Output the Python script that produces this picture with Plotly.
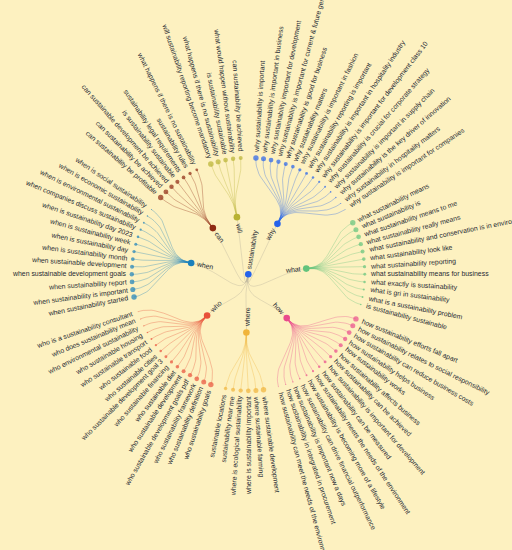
import math
import plotly.graph_objects as go

ROOT = "sustainability"
GROUPS = ["why", "what", "how", "where", "who", "when", "can", "will"]
GROUP_COLORS = ["#2563eb", "#62c37c", "#e94b8c", "#f0b43a", "#e8513a", "#1a80bb", "#8f2a12", "#b8b232"]
ROOT_COLOR = "#2563eb"

why_leaves = ["why sustainability is important", "why sustainability is important in business",
              "why sustainability important for development",
              "why sustainability is important for current &amp; future generations",
              "why sustainability is good for business", "why sustainability matters",
              "why sustainability is important in fashion", "why sustainability reporting is important",
              "why sustainability is important in hospitality industry",
              "why sustainability is important for development class 10",
              "why sustainability is crucial for corporate strategy",
              "why sustainability is important in supply chain",
              "why sustainability is the key driver of innovation",
              "why sustainability in hospitality matters", "why sustainability is important for companies"]
why_sizes = [5.4, 5.0, 4.7, 4.3, 4.0, 3.6, 3.2, 2.9, 2.5, 2.2, 1.9, 1.6, 1.3, 1.0, 0.7]

what_leaves = ["what sustainability means", "what sustainability is", "what sustainability means to me",
               "what sustainability really means", "what sustainability and conservation is in environment",
               "what sustainability look like", "what sustainability reporting",
               "what sustainability means for business", "what exactly is sustainability",
               "what is gri in sustainability", "what is a sustainability problem",
               "is sustainability sustainable"]
what_sizes = [5.4, 5.0, 4.7, 4.3, 4.0, 3.6, 3.2, 2.9, 2.5, 2.2, 1.9, 1.6]

how_leaves = ["how sustainability efforts fall apart", "how sustainability relates to social responsibility",
              "how sustainability can reduce business costs", "how sustainability helps business",
              "how sustainability works", "how sustainability affects business",
              "how sustainability can be achieved", "how sustainability is important for development",
              "how sustainability can be measured", "how sustainability meets the needs of the environment",
              "how sustainability is becoming more of a lifestyle",
              "how sustainability can drive financial outperformance",
              "how sustainability is important now a days", "how sustainability in integrated in procurement",
              "how sustainability can meet the needs of the environment"]
how_sizes = [5.4, 5.0, 4.7, 4.3, 4.0, 3.6, 3.2, 2.9, 2.5, 2.2, 1.9, 1.6, 1.3, 1.0, 0.7]

where_leaves = ["where sustainable development", "where sustainable farming", "where is sustainability important",
                "where is ecological sustainability", "sustainability near me", "sustainable locations"]
where_sizes = [5.4, 5.0, 4.7, 4.3, 4.0, 3.4]

who_leaves = ["who sustainability goals", "who sustainability definition", "who sustainability framework",
              "who sustainable development goals pdf", "who sustainable development", "who sustainable diet",
              "who sustainable financing", "who sustainable development goal 3", "who sustainable cities",
              "who sustainable food", "who sustainable transport", "who sustainable housing",
              "who environmental sustainability", "who does sustainability mean",
              "who is a sustainability consultant"]
who_sizes = [5.4, 5.0, 4.7, 4.3, 4.0, 3.6, 3.2, 2.9, 2.5, 2.2, 1.9, 1.6, 1.3, 1.0, 0.7]

when_leaves = ["when sustainability started", "when sustainability is important", "when sustainability report",
               "when sustainable development goals", "when sustainable development",
               "when is sustainability month", "when is sustainability day", "when is sustainability week",
               "when is sustainability day 2023", "when companies discuss sustainability",
               "when is environmental sustainability", "when is economic sustainability",
               "when is social sustainability"]
when_sizes = [5.4, 5.1, 4.8, 4.4, 4.1, 3.7, 3.3, 3.0, 2.6, 2.2, 1.8, 1.4, 1.0]

can_leaves = ["can sustainability be profitable", "can sustainability be achieved",
              "can sustainable development be achieved", "is sustainability sustainable",
              "sustainability legal requirements", "sustainability rules",
              "what happens if there is no sustainability"]
can_sizes = [5.4, 4.9, 4.5, 4.1, 3.7, 3.3, 2.8]

will_leaves = ["will sustainability reporting become mandatory", "what happens if there is no sustainability",
               "is sustainability sustainable", "what would happen without sustainability",
               "can sustainability be achieved"]
will_sizes = [5.6, 5.1, 4.7, 4.4, 4.0]

LEAVES = [why_leaves, what_leaves, how_leaves, where_leaves, who_leaves, when_leaves, can_leaves, will_leaves]
SIZES = [why_sizes, what_sizes, how_sizes, where_sizes, who_sizes, when_sizes, can_sizes, will_sizes]

# ---------- styling ----------
BG = "#fdf1c0"
TEXT_COLOR = "#262a33"
FONT = "Liberation Sans, Arial, sans-serif"
FS = 6.9
R1, R2 = 58.25, 116.5
OFF = 6.0
NODE_SIZE = 6.6

# Arial/Liberation Sans advance widths (per 1000 em)
W = {' ': 278, 'a': 556, 'b': 556, 'c': 500, 'd': 556, 'e': 556, 'f': 278, 'g': 556, 'h': 556,
     'i': 222, 'j': 222, 'k': 500, 'l': 222, 'm': 833, 'n': 556, 'o': 556, 'p': 556, 'q': 556,
     'r': 333, 's': 500, 't': 278, 'u': 556, 'v': 500, 'w': 722, 'x': 500, 'y': 500, 'z': 500,
     '&': 667}


def text_width(t):
    t = t.replace("&amp;", "&")
    return sum(W.get(ch, 556) for ch in t) / 1000.0 * FS


def hex_rgba(h, a):
    h = h.lstrip('#')
    return "rgba(%d,%d,%d,%.2f)" % (int(h[0:2], 16), int(h[2:4], 16), int(h[4:6], 16), a)


def polar(theta, r):
    t = math.radians(theta)
    return r * math.sin(t), r * math.cos(t)


def bump(ts, rs, tt, rt, n=30):
    rm = (rs + rt) / 2
    p0, p1, p2, p3 = polar(ts, rs), polar(ts, rm), polar(tt, rm), polar(tt, rt)
    xs, ys = [], []
    for k in range(n + 1):
        u = k / n
        a, b, c, d = (1 - u) ** 3, 3 * (1 - u) ** 2 * u, 3 * (1 - u) * u ** 2, u ** 3
        xs.append(a * p0[0] + b * p1[0] + c * p2[0] + d * p3[0])
        ys.append(a * p0[1] + b * p1[1] + c * p2[1] + d * p3[1])
    return xs, ys


# ---------- tidy radial tree layout (d3 separation rule) ----------
units = []
pos = None
for gi, leaves in enumerate(LEAVES):
    gu = []
    for li in range(len(leaves)):
        if pos is None:
            pos = 0.5
        elif li == 0:
            pos += 1.0
        else:
            pos += 0.5
        gu.append(pos)
    units.append(gu)
total = pos + 0.5
leaf_ang = [[u / total * 360.0 for u in gu] for gu in units]
group_ang = [(a[0] + a[-1]) / 2 for a in leaf_ang]
root_ang = (group_ang[0] + group_ang[-1]) / 2

fig = go.Figure()
annotations = []


def add_label(text, theta, r_center):
    x, y = polar(theta, r_center)
    rot = theta - 90 if theta < 180 else theta - 270
    annotations.append(dict(x=x, y=y, xref="x", yref="y", text=text, showarrow=False,
                            textangle=rot, xanchor="center", yanchor="middle",
                            font=dict(family=FONT, size=FS, color=TEXT_COLOR), borderpad=0))


# root links
lx, ly = [], []
for ga in group_ang:
    xs, ys = bump(root_ang, 0, ga, R1)
    lx += xs + [None]
    ly += ys + [None]
fig.add_trace(go.Scatter(x=lx, y=ly, mode="lines", line=dict(color="rgba(170,165,150,0.35)", width=0.9),
                         hoverinfo="skip", showlegend=False))

# group links
for gi, g in enumerate(GROUPS):
    lx, ly = [], []
    for a in leaf_ang[gi]:
        xs, ys = bump(group_ang[gi], R1, a, R2)
        lx += xs + [None]
        ly += ys + [None]
    fig.add_trace(go.Scatter(x=lx, y=ly, mode="lines",
                             line=dict(color=hex_rgba(GROUP_COLORS[gi], 0.42), width=0.8),
                             hoverinfo="skip", showlegend=False))

# leaf markers + labels
for gi, g in enumerate(GROUPS):
    pts = [polar(a, R2) for a in leaf_ang[gi]]
    fig.add_trace(go.Scatter(x=[p[0] for p in pts], y=[p[1] for p in pts], mode="markers",
                             marker=dict(color=GROUP_COLORS[gi], size=SIZES[gi], line=dict(width=0)),
                             hoverinfo="skip", showlegend=False))
    for lab, a in zip(LEAVES[gi], leaf_ang[gi]):
        add_label(lab, a, R2 + OFF + text_width(lab) / 2)

# group nodes + labels
gp = [polar(a, R1) for a in group_ang]
fig.add_trace(go.Scatter(x=[p[0] for p in gp], y=[p[1] for p in gp], mode="markers",
                         marker=dict(color=GROUP_COLORS, size=NODE_SIZE, line=dict(width=0)),
                         hoverinfo="skip", showlegend=False))
for gi, g in enumerate(GROUPS):
    add_label(g, group_ang[gi], R1 - OFF - text_width(g) / 2)

# root
fig.add_trace(go.Scatter(x=[0], y=[0], mode="markers",
                         marker=dict(color=ROOT_COLOR, size=NODE_SIZE, line=dict(width=0)),
                         hoverinfo="skip", showlegend=False))
add_label(ROOT, root_ang, -OFF - text_width(ROOT) / 2)

CX, CY = 248.3, 274.3
fig.update_layout(
    width=512, height=550, autosize=False,
    margin=dict(l=0, r=0, t=0, b=0, pad=0),
    paper_bgcolor=BG, plot_bgcolor=BG,
    xaxis=dict(range=[-CX, 512 - CX], visible=False, fixedrange=True),
    yaxis=dict(range=[-(550 - CY), CY], visible=False, fixedrange=True),
    annotations=annotations,
    showlegend=False,
)
fig.write_html("out.html", config={"displayModeBar": False},
               post_script="document.body.style.margin='0';document.body.style.padding='0';"
                           "document.body.style.background='" + BG + "';document.body.style.overflow='hidden';")
